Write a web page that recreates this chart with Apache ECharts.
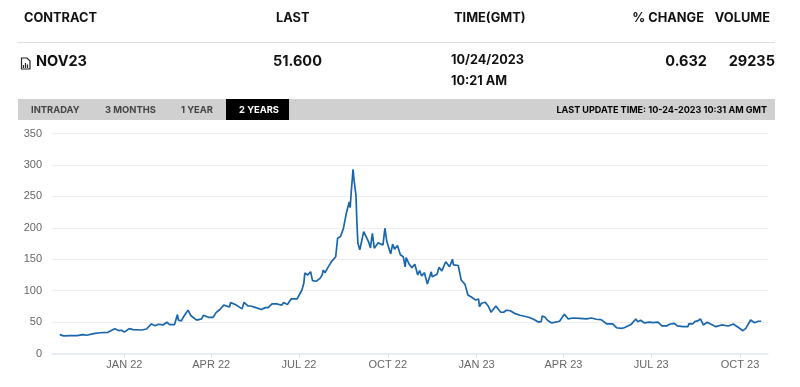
<!DOCTYPE html>
<html>
<head>
<meta charset="utf-8">
<title>NOV23</title>
<script src="https://cdn.jsdelivr.net/npm/echarts@6/dist/echarts.min.js"></script>
<style>
	html, body { margin: 0; padding: 0; background: #fff; }
	body { width: 800px; height: 387px; position: relative; overflow: hidden; font-family: Inter, "Liberation Sans", sans-serif; font-weight: 700; color: #111; }
	#chart { position: absolute; left: 0; top: 0; width: 800px; height: 387px; }
	.t { position: absolute; white-space: nowrap; line-height: 16px; }
	.head { font-size: 12.8px; top: 10px; }
	.val { font-size: 14.5px; top: 53px; }
	.rule { position: absolute; left: 18px; top: 42px; width: 757px; height: 1px; background: #dcdcdc; }
	.bar { position: absolute; left: 18px; top: 99px; width: 757px; height: 21px; background: #d0d0d0; }
	.tab { font-size: 9.4px; top: 102px; color: #444; }
	.active { position: absolute; left: 226px; top: 99px; width: 63px; height: 21px; background: #000; }
</style>
</head>
<body>
<div id="chart"></div>

<div class="t head" style="left:24px">CONTRACT</div>
<div class="t head" style="left:276px">LAST</div>
<div class="t head" style="left:454px">TIME(GMT)</div>
<div class="t head" style="right:96px">% CHANGE</div>
<div class="t head" style="right:30px">VOLUME</div>
<div class="rule"></div>

<svg style="position:absolute;left:20px;top:57px" width="11" height="13" viewBox="0 0 11 13">
	<path d="M1.5 1h5.5l3 3v8h-8.500z" fill="none" stroke="#222" stroke-width="1.200"/>
	<path d="M3.500 11V8M5.500 11V6M7.500 11V7.500" stroke="#222" stroke-width="1.200"/>
</svg>
<div class="t val" style="left:36px">NOV23</div>
<div class="t val" style="left:273px">51.600</div>
<div class="t" style="left:451px;top:52px;font-size:12.7px">10/24/2023</div>
<div class="t" style="left:451px;top:73px;font-size:12.7px">10:21 AM</div>
<div class="t val" style="right:93px">0.632</div>
<div class="t val" style="right:25px">29235</div>

<div class="bar"></div>
<div class="active"></div>
<div class="t tab" style="left:31px">INTRADAY</div>
<div class="t tab" style="left:105px">3 MONTHS</div>
<div class="t tab" style="left:181px">1 YEAR</div>
<div class="t tab" style="left:239px;color:#fff">2 YEARS</div>
<div class="t" style="right:33px;top:102px;font-size:9.05px;color:#000">LAST UPDATE TIME: 10-24-2023 10:31 AM GMT</div>

<script>
// 价格数据：days为距2022-01-01的天数
var days = [-67, -63, -56, -49, -43, -39, -37, -32, -25, -17, -10, -6, -3, 0, 5, 9, 18, 23, 28, 32, 35, 40, 44, 47, 52, 55, 56, 59, 61, 66, 69, 71, 75, 80, 82, 87, 92, 95, 99, 103, 104, 109, 110, 115, 118, 122, 124, 128, 131, 133, 137, 142, 146, 149, 153, 158, 163, 165, 169, 173, 179, 184, 186, 187, 190, 191, 193, 195, 199, 203, 205, 206, 208, 211, 215, 219, 221, 224, 227, 229, 230, 233, 234, 235, 237, 238, 240, 241, 242, 243, 244, 248, 250, 253, 255, 257, 259, 261, 263, 268, 270, 272, 276, 278, 280, 283, 286, 289, 291, 292, 295, 298, 301, 304, 306, 308, 311, 312, 314, 318, 319, 324, 326, 329, 331, 333, 337, 340, 341, 346, 349, 353, 356, 360, 362, 364, 367, 368, 370, 374, 377, 380, 385, 387, 390, 393, 396, 400, 405, 410, 412, 419, 424, 429, 432, 433, 436, 439, 443, 451, 456, 460, 465, 472, 479, 484, 489, 494, 500, 506, 510, 515, 518, 520, 525, 527, 530, 532, 535, 539, 544, 548, 553, 557, 562, 565, 570, 573, 579, 584, 585, 589, 591, 594, 597, 600, 604, 608, 613, 619, 626, 631, 636, 641, 644, 649, 653, 657, 660];

var prices = [30, 28, 28.4, 28.4, 30, 29, 31.5, 31.5, 33, 33.7, 39.5, 36.5, 37, 34, 39.5, 38, 37.4, 39, 47, 44, 46.5, 45.4, 49.7, 46, 46, 62, 53, 52, 57.6, 69, 60, 59, 53, 55, 61, 57.6, 57.6, 65, 70, 77, 74, 74, 81, 78, 75, 71, 81.5, 75.6, 75.6, 72.5, 72.5, 70, 73, 73, 79, 79, 76.8, 81, 78, 87, 87, 101, 112, 128, 125, 127, 130, 116, 115, 120, 125, 132.5, 128.7, 137, 147, 154, 183.4, 186, 199, 202, 223, 241, 232, 255, 293, 276, 252, 207, 175.5, 176, 165, 194, 195, 178, 168, 191, 167.5, 166, 176, 172.7, 199.3, 178, 158.4, 174, 166, 171.7, 157, 154, 137.7, 152.5, 142.5, 136.6, 142, 125, 132, 123.4, 128.7, 122, 110.7, 130, 122, 126, 137, 131.4, 131.4, 146, 138, 150, 141, 140, 117, 110, 93, 89.5, 91.5, 85, 86.8, 74.5, 80, 81.5, 75.6, 65.6, 75.6, 75.6, 65.6, 65.6, 68.8, 68, 63.4, 60.8, 58, 57.6, 54.5, 50, 50.6, 59.7, 57.6, 52.2, 48.6, 51.3, 62.4, 55, 56.5, 56, 55, 56.5, 54.5, 54, 47, 47, 41, 40, 41, 40, 46, 47, 55, 50.6, 52.8, 48.6, 50, 49, 50, 44, 43.8, 46.5, 48, 43.8, 42.7, 42.7, 47.5, 47, 50.6, 51.8, 55, 45.4, 49.7, 46.5, 42.7, 45.4, 43.8, 47, 41.7, 36.3, 40, 53.3, 49, 51.3, 51.3];

// 横轴刻度（季度首日，同样是距2022-01-01的天数）
var tickDays = [0, 90, 181, 273, 365, 455, 546, 638];
var tickLabels = ['JAN 22', 'APR 22', 'JUL 22', 'OCT 22', 'JAN 23', 'APR 23', 'JUL 23', 'OCT 23'];

var seriesData = [];
for (var i = 0; i < days.length; i++) {
	seriesData.push([days[i], prices[i]]);
}

var chartObj = echarts.init(document.getElementById('chart'));

var option = {
	animation: false,
	grid: { left: 52, right: 32, top: 133.5, bottom: 33.5 },
	xAxis: {
		type: 'value',
		min: -75,
		max: 667,
		axisLine: { show: true, onZero: false, lineStyle: { color: '#e3e9f3', width: 1.5 } },
		axisTick: { show: true, customValues: tickDays, length: 5, lineStyle: { color: '#dfe5f0' } },
		splitLine: { show: false },
		axisLabel: {
			customValues: tickDays,
			color: '#666',
			fontSize: 11,
			fontFamily: 'Liberation Sans',
			margin: 6,
			formatter: function (value) {
				return tickLabels[tickDays.indexOf(value)];
			}
		}
	},
	yAxis: {
		type: 'value',
		min: 0,
		max: 350,
		interval: 50,
		axisLine: { show: false },
		axisTick: { show: false },
		splitLine: { lineStyle: { color: '#eeeeee' } },
		axisLabel: { color: '#666', fontSize: 11, fontFamily: 'Liberation Sans', margin: 10 }
	},
	series: [
		{
			type: 'line',
			data: seriesData,
			showSymbol: false,
			lineStyle: { color: '#1a66ad', width: 1.7 }
		}
	]
};
chartObj.setOption(option);
</script>
</body>
</html>
